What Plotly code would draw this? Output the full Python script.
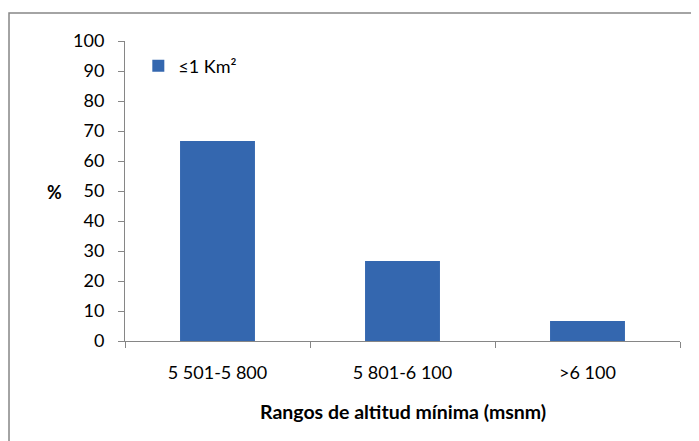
import plotly.graph_objects as go

categories = ["5 501-5 800", "5 801-6 100", ">6 100"]
values = [66.7, 26.7, 6.7]
series_name = "≤1 Km²"
y_ticks = list(range(0, 101, 10))

FONT = "Lato, 'Open Sans', sans-serif"

fig = go.Figure()
fig.add_trace(go.Bar(
    x=categories, y=values, name=series_name,
    marker=dict(color="#3467AF", line=dict(width=0)),
    showlegend=True,
))

fig.update_layout(
    width=699, height=441,
    margin=dict(l=117, r=27, t=33, b=108, autoexpand=False),
    paper_bgcolor="white", plot_bgcolor="white",
    font=dict(family=FONT, size=18, color="black"),
    bargap=0.595,
    showlegend=True,
    legend=dict(x=0.024, y=0.978, xanchor="left", yanchor="top",
                bgcolor="rgba(0,0,0,0)", font=dict(size=18),
                itemwidth=30, tracegroupgap=0),
    xaxis=dict(
        showline=True, linecolor="#868686", linewidth=1,
        ticks="outside", ticklen=6, tickcolor="#868686",
        tickson="boundaries", showgrid=False, automargin=False,
        ticklabelstandoff=15,
    ),
    yaxis=dict(
        range=[0, 100], tickvals=y_ticks,
        showline=True, linecolor="#868686", linewidth=1,
        ticks="outside", ticklen=6, tickcolor="#868686",
        showgrid=False, zeroline=False, automargin=False,
        ticklabelstandoff=10,
    ),
    annotations=[
        dict(text="<b>%</b>", xref="paper", yref="paper", x=-0.127, y=0.497,
             showarrow=False, xanchor="center", yanchor="middle", font=dict(size=18)),
        dict(text="<b>Rangos de altitud mínima (msnm)</b>", xref="paper", yref="paper",
             x=0.5, y=-0.235, showarrow=False, xanchor="center", yanchor="middle",
             font=dict(size=19.5)),
    ],
    shapes=[dict(type="rect", xref="paper", yref="paper",
                 x0=-0.209, x1=1.3, y0=-0.5, y1=1.093,
                 line=dict(color="#868686", width=1.5), fillcolor="rgba(0,0,0,0)",
                 layer="below")],
)

fig.write_html("out.html")
